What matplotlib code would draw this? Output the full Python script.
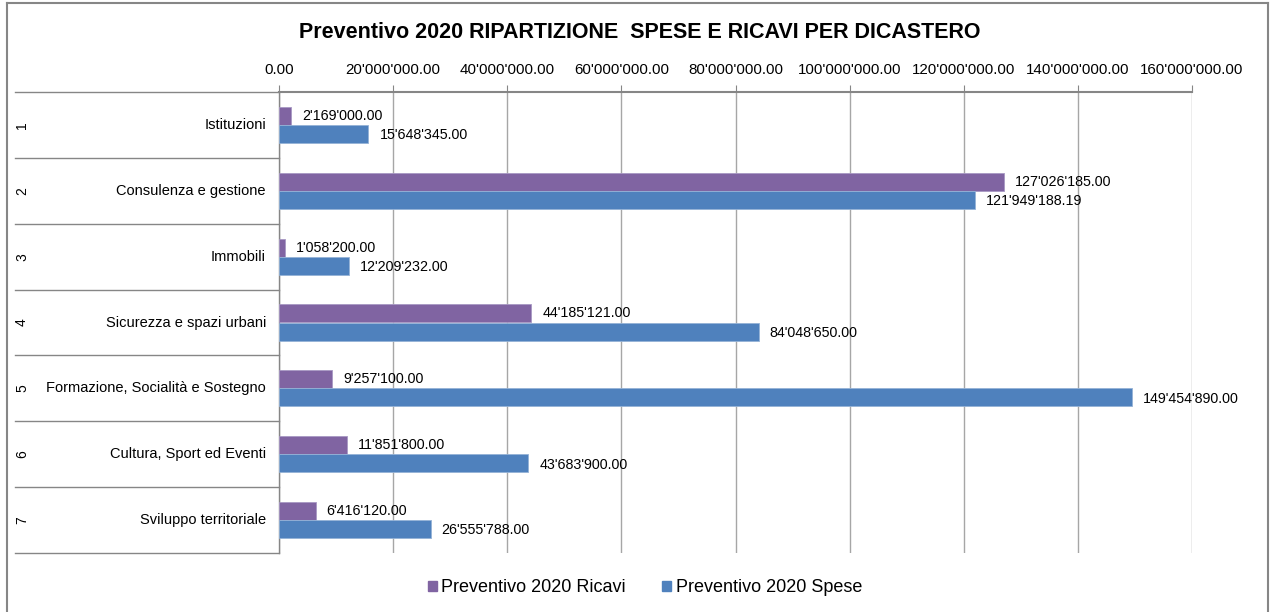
import matplotlib
matplotlib.use('Agg')
import matplotlib.pyplot as plt
from matplotlib.lines import Line2D
from matplotlib.patches import Patch

# dati
numeri = ['1', '2', '3', '4', '5', '6', '7']
dicasteri = ['Istituzioni', 'Consulenza e gestione', 'Immobili', 'Sicurezza e spazi urbani',
             'Formazione, Socialità e Sostegno', 'Cultura, Sport ed Eventi', 'Sviluppo territoriale']
ricavi = [2169000.00, 127026185.00, 1058200.00, 44185121.00, 9257100.00, 11851800.00, 6416120.00]
spese = [15648345.00, 121949188.19, 12209232.00, 84048650.00, 149454890.00, 43683900.00, 26555788.00]
x_ticks = [0, 20e6, 40e6, 60e6, 80e6, 100e6, 120e6, 140e6, 160e6]

col_ricavi = '#8064A2'
col_spese = '#4F81BD'
grigio = '#868686'

plt.rcParams['font.family'] = ['Liberation Sans', 'DejaVu Sans']


def fmt(v):
    return f"{v:,.2f}".replace(',', "'")


W, H = 1271, 612
fig = plt.figure(figsize=(W / 100, H / 100), dpi=100)
ax = fig.add_axes([279 / W, (H - 553) / H, 913 / W, 461 / H])

h = 0.275
for i in range(len(dicasteri)):
    c = i + 0.5
    ax.barh(c - h / 2, ricavi[i], height=h, color=col_ricavi, edgecolor='#a898c4', linewidth=0.6, zorder=3)
    ax.barh(c + h / 2, spese[i], height=h, color=col_spese, edgecolor='#95b3d7', linewidth=0.6, zorder=3)
    ax.annotate(fmt(ricavi[i]), (ricavi[i], c - h / 2), xytext=(8, 0), textcoords='offset points',
                va='center', ha='left', fontsize=10.3, color='black')
    ax.annotate(fmt(spese[i]), (spese[i], c + h / 2 + 0.02), xytext=(8, 0), textcoords='offset points',
                va='center', ha='left', fontsize=10.3, color='black')

ax.set_xlim(0, 160e6)
ax.set_ylim(7, 0)
ax.set_xticks(x_ticks)
ax.set_xticklabels([fmt(v) for v in x_ticks], fontsize=10.9)
ax.xaxis.tick_top()
ax.tick_params(axis='x', direction='out', length=5, color=grigio, pad=6)
ax.set_yticks([])
ax.grid(axis='x', color='#a6a6a6', linewidth=1, zorder=0)
for s in ['right', 'bottom']:
    ax.spines[s].set_visible(False)
ax.spines['top'].set_color(grigio)
ax.spines['top'].set_linewidth(1.5)
ax.spines['left'].set_color(grigio)
ax.spines['left'].set_linewidth(1)

# asse categorie a due livelli
tr = ax.get_yaxis_transform()
x0 = (15 - 279) / 913
for k in range(len(dicasteri) + 1):
    ax.add_line(Line2D([x0, 0], [k, k], transform=tr, color=grigio, linewidth=1, clip_on=False))
for i in range(len(dicasteri)):
    ax.text((22 - 279) / 913, i + 0.5, numeri[i], transform=tr, rotation=90, ha='center', va='center',
            fontsize=10)
    ax.text((266 - 279) / 913, i + 0.5, dicasteri[i], transform=tr, ha='right', va='center', fontsize=10.5)

fig.text(640 / W, 1 - 32 / H, 'Preventivo 2020 RIPARTIZIONE  SPESE E RICAVI PER DICASTERO',
         ha='center', va='center', fontsize=15.5, fontweight='bold')

handles = [Patch(color=col_ricavi), Patch(color=col_spese)]
fig.legend(handles, ['Preventivo 2020 Ricavi', 'Preventivo 2020 Spese'], loc='center',
           bbox_to_anchor=(645 / W, 1 - 588 / H), ncol=2, frameon=False, fontsize=13,
           handlelength=0.5, handleheight=0.5, handletextpad=0.25, columnspacing=2.0)

# bordo grafico
for xs, ys in [([7, 7], [0, H - 3]), ([7, 1268], [H - 3, H - 3]), ([1268, 1268], [0, H - 3])]:
    fig.add_artist(Line2D([x / W for x in xs], [y / H for y in ys], color=grigio, linewidth=1.5))

fig.savefig('out.png', dpi=100)
